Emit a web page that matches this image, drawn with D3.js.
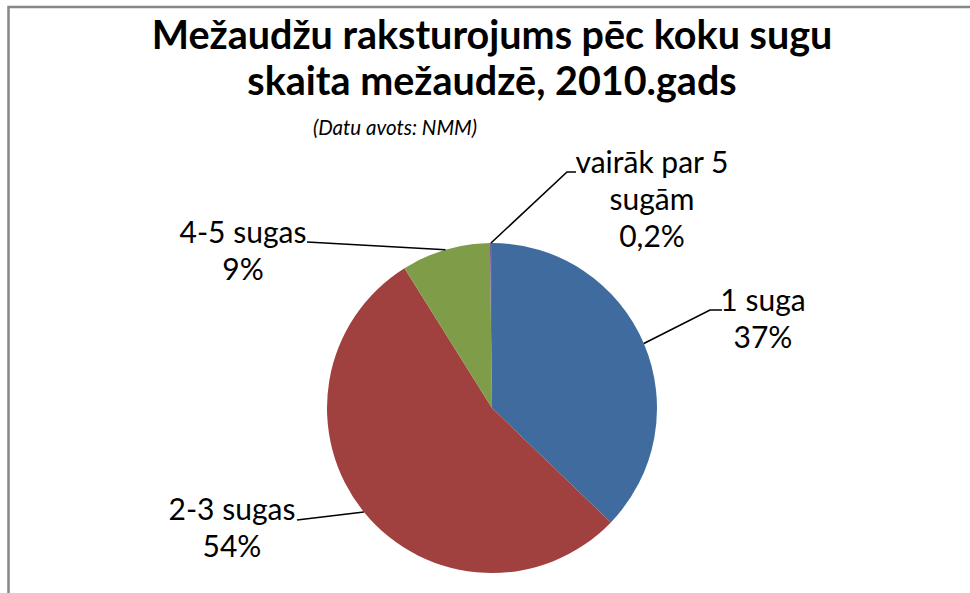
<!DOCTYPE html>
<html>
<head>
<meta charset="utf-8">
<script src="https://cdn.jsdelivr.net/npm/d3@7"></script>
<style>
  body { margin: 0; background: #fff; }
  text { font-family: Lato, "Noto Sans", sans-serif; fill: #000; }
</style>
</head>
<body>
<svg id="chart" width="970" height="593"></svg>
<script>
// data
const categories = ["1 suga", "2-3 sugas", "4-5 sugas", "vairāk par 5 sugām"];
const values = [37.2, 53.9, 8.7, 0.2];
const valueLabels = ["37%", "54%", "9%", "0,2%"];
const labelLines = [["1 suga"], ["2-3 sugas"], ["4-5 sugas"], ["vairāk par 5", "sugām"]];
const colors = ["#3f6b9f", "#a0413f", "#7f9c49", "#7b5e99"];

const titleLines = ["Mežaudžu raksturojums pēc koku sugu", "skaita mežaudzē, 2010.gads"];
const subtitle = "(Datu avots: NMM)";

// layout: elbow of leader line and label anchor (center x, first baseline)
const layout = [
  { elbow: [[710, 310], [722, 310]], x: 763, y: 311 },
  { elbow: [[297, 520]], x: 232, y: 520 },
  { elbow: [[307, 242]], x: 243, y: 243 },
  { elbow: [[567, 172], [576, 172]], x: 652, y: 173 }
];

const cx = 492, cy = 408, r = 165;
const lineH = 37;

const svg = d3.select("#chart");

// chart frame (cut by the picture on the right and bottom)
svg.append("rect")
  .attr("x", 8.5).attr("y", 7)
  .attr("width", 1000).attr("height", 700)
  .attr("fill", "none")
  .attr("stroke", "#878787")
  .attr("stroke-width", 2.5);

// title
svg.append("g").selectAll("text")
  .data(titleLines)
  .join("text")
  .attr("x", 492)
  .attr("y", (d, i) => 49 + i * 46)
  .attr("text-anchor", "middle")
  .style("font-size", "39.5px")
  .style("font-weight", "bold")
  .text(d => d);

svg.append("text")
  .attr("x", 395)
  .attr("y", 135)
  .attr("text-anchor", "middle")
  .style("font-size", "20.5px")
  .style("font-style", "italic")
  .text(subtitle);

const pie = d3.pie().sort(null).value(d => d)(values);
const arc = d3.arc().innerRadius(0).outerRadius(r);

const g = svg.append("g").attr("transform", `translate(${cx},${cy})`);

g.selectAll("path")
  .data(pie)
  .join("path")
  .attr("d", arc)
  .attr("fill", (d, i) => colors[i]);

// leader lines
const leaderArc = d3.arc().innerRadius(r).outerRadius(r);
svg.append("g").selectAll("path")
  .data(pie)
  .join("path")
  .attr("fill", "none")
  .attr("stroke", "#000")
  .attr("stroke-width", 1.6)
  .attr("d", (d, i) => {
    const c = leaderArc.centroid(d);
    const pts = [[cx + c[0], cy + c[1]]].concat(layout[i].elbow);
    return d3.line()(pts);
  });

// labels
const lbl = svg.append("g").selectAll("text")
  .data(pie)
  .join("text")
  .attr("text-anchor", "middle")
  .style("font-size", "30px");

lbl.each(function (d, i) {
  const lines = labelLines[i].concat([valueLabels[i]]);
  d3.select(this).selectAll("tspan")
    .data(lines)
    .join("tspan")
    .attr("x", layout[i].x)
    .attr("y", (t, j) => layout[i].y + j * lineH)
    .text(t => t);
});
</script>
</body>
</html>
